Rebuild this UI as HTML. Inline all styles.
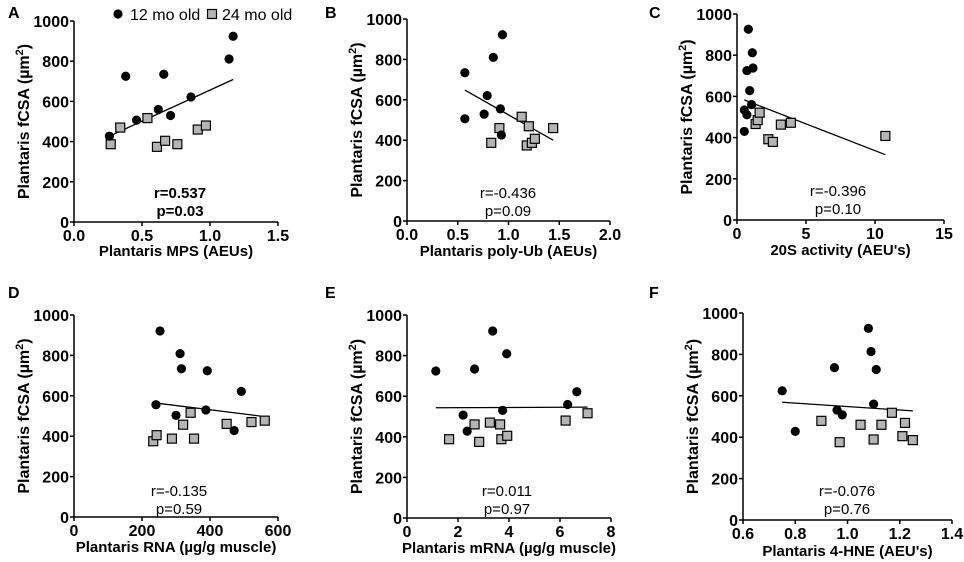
<!DOCTYPE html>
<html><head><meta charset="utf-8"><style>
body{margin:0;background:#fff}
svg{display:block;font-family:"Liberation Sans",Arial,sans-serif}
</style></head><body>
<svg id="fig" width="964" height="562" viewBox="0 0 964 562" xmlns="http://www.w3.org/2000/svg"></svg>
<script>
// Panel A
const aYoungX=[0.26,0.38,0.46,0.62,0.66,0.71,0.86,1.14,1.17];
const aYoungY=[427,725,507,560,735,530,622,811,924];
const aOldX=[0.27,0.34,0.54,0.61,0.67,0.76,0.91,0.97];
const aOldY=[387,470,517,374,404,387,460,480];
const aFitX=[0.26,1.17]; const aFitY=[427,709];
const aXTicks=["0.0","0.5","1.0","1.5"];
// Panel B
const bYoungX=[0.57,0.57,0.76,0.79,0.85,0.92,0.94,0.93];
const bYoungY=[734,506,529,621,810,555,922,426];
const bOldX=[0.83,0.91,1.13,1.20,1.18,1.23,1.26,1.44];
const bOldY=[387,460,516,469,374,387,407,460];
const bFitX=[0.57,1.44]; const bFitY=[648,400];
const bXTicks=["0.0","0.5","1.0","1.5","2.0"];
// Panel C
const cYoungX=[0.82,1.11,0.72,1.16,0.92,1.06,0.53,0.72,0.53];
const cYoungY=[926,812,725,738,628,560,534,511,430];
const cOldX=[1.35,1.5,1.64,2.27,2.6,3.18,3.9,10.75];
const cOldY=[466,485,521,392,379,463,472,408];
const cFitX=[0.53,10.75]; const cFitY=[583,317];
const cXTicks=["0","5","10","15"];
// Panel D
const dYoungX=[253,312,316,392,492,241,388,300,471];
const dYoungY=[921,809,734,724,622,556,530,503,428];
const dOldX=[233,243,288,321,343,353,449,522,561];
const dOldY=[375,405,388,457,516,388,461,470,477];
const dFitX=[233,561]; const dFitY=[566,497];
const dXTicks=["0","200","400","600"];
// Panel E
const eYoungX=[1.13,2.65,3.36,3.91,2.2,2.36,3.75,6.3,6.66];
const eYoungY=[724,734,921,809,507,428,530,559,622];
const eOldX=[1.65,2.65,2.83,3.25,3.65,3.7,3.93,6.22,7.08];
const eOldY=[388,461,375,470,461,388,405,480,516];
const eFitX=[1.13,7.08]; const eFitY=[543,546];
const eXTicks=["0","2","4","6","8"];
// Panel F
const fYoungX=[1.08,1.09,0.95,1.11,0.75,1.10,0.96,0.98,0.80];
const fYoungY=[926,814,736,727,624,560,531,508,428];
const fOldX=[0.90,0.97,1.05,1.10,1.13,1.17,1.22,1.21,1.25];
const fOldY=[479,376,460,389,460,518,469,405,386];
const fFitX=[0.75,1.25]; const fFitY=[569,527];
const fXTicks=["0.6","0.8","1.0","1.2","1.4"];
const yTicks=["0","200","400","600","800","1000"];

const panels=[
 {id:"a",L:"A",lx:8,ly:18,x0:74,x1:278,y0:222,y1:21,xmin:0,xmax:1.5,yx_:aXTicks,yX:aYoungX,yY:aYoungY,oX:aOldX,oY:aOldY,fX:aFitX,fY:aFitY,xt:"Plantaris MPS (AEUs)",xty:256,r:"r=0.537",p:"p=0.03",sx:180,sy:198,bold:true},
 {id:"b",L:"B",lx:325,ly:18,x0:407,x1:610,y0:221,y1:19,xmin:0,xmax:2,yx_:bXTicks,yX:bYoungX,yY:bYoungY,oX:bOldX,oY:bOldY,fX:bFitX,fY:bFitY,xt:"Plantaris poly-Ub (AEUs)",xty:256,r:"r=-0.436",p:"p=0.09",sx:508,sy:198},
 {id:"c",L:"C",lx:649,ly:18,x0:737,x1:944,y0:220,y1:14,xmin:0,xmax:15,yx_:cXTicks,yX:cYoungX,yY:cYoungY,oX:cOldX,oY:cOldY,fX:cFitX,fY:cFitY,xt:"20S activity (AEU's)",xty:255,r:"r=-0.396",p:"p=0.10",sx:838,sy:196},
 {id:"d",L:"D",lx:8,ly:298,x0:74,x1:278,y0:517,y1:315,xmin:0,xmax:600,yx_:dXTicks,yX:dYoungX,yY:dYoungY,oX:dOldX,oY:dOldY,fX:dFitX,fY:dFitY,xt:"Plantaris RNA (µg/g muscle)",xty:552,r:"r=-0.135",p:"p=0.59",sx:179,sy:496},
 {id:"e",L:"E",lx:325,ly:298,x0:407,x1:611,y0:518,y1:315,xmin:0,xmax:8,yx_:eXTicks,yX:eYoungX,yY:eYoungY,oX:eOldX,oY:eOldY,fX:eFitX,fY:eFitY,xt:"Plantaris mRNA (µg/g muscle)",xty:553,r:"r=0.011",p:"p=0.97",sx:507,sy:496},
 {id:"f",L:"F",lx:649,ly:298,x0:743,x1:952,y0:520,y1:313,xmin:0.6,xmax:1.4,yx_:fXTicks,yX:fYoungX,yY:fYoungY,oX:fOldX,oY:fOldY,fX:fFitX,fY:fFitY,xt:"Plantaris 4-HNE (AEU's)",xty:556,r:"r=-0.076",p:"p=0.76",sx:847,sy:496}
];
const NS="http://www.w3.org/2000/svg";
const svg=document.getElementById("fig");
function mk(tag,attrs,parent,text){const e=document.createElementNS(NS,tag);for(const k in attrs)e.setAttribute(k,attrs[k]);if(text!==undefined)e.textContent=text;(parent||svg).appendChild(e);return e;}

panels.forEach(P=>{
 const g=mk("g",{});
 
 
 const sx=v=>P.x0+(v-P.xmin)/(P.xmax-P.xmin)*(P.x1-P.x0);
 const sy=v=>P.y0+(v/1000)*(P.y1-P.y0);
 const lbl=mk("text",{x:P.lx,y:P.ly,"font-size":16,"font-weight":"bold"},g,P.L);
 
 
 const ax=mk("path",{d:`M${P.x0},${P.y1}V${P.y0}H${P.x1}`,stroke:"#000","stroke-width":1.5,fill:"none"},g);
 
 
 yTicks.forEach(t=>{
  const y=sy(+t);
  mk("line",{x1:P.x0-4,x2:P.x0,y1:y,y2:y,stroke:"#000","stroke-width":1.5},g);
  const tl=mk("text",{x:P.x0-5,y:y+6,"font-size":16,"font-weight":"bold","text-anchor":"end"},g,t);
  
  
 });
 P.yx_.forEach(t=>{
  const x=sx(+t);
  mk("line",{x1:x,x2:x,y1:P.y0,y2:P.y0+4,stroke:"#000","stroke-width":1.5},g);
  const tl=mk("text",{x:x,y:P.y0+19,"font-size":16,"font-weight":"bold","text-anchor":"middle"},g,t);
  
  
 });
 const xt=mk("text",{x:(P.x0+P.x1)/2,y:P.xty,"font-size":15,"font-weight":"bold","text-anchor":"middle"},g,P.xt);
 
 
 const ycx=P.x0-45, ycy=(P.y0+P.y1)/2;
 const yt=mk("text",{x:ycx,y:ycy,"font-size":16,"font-weight":"bold","text-anchor":"middle",transform:`rotate(-90 ${ycx} ${ycy})`},g);
 
 
 mk("tspan",{},yt,"Plantaris fCSA  (µm");
 mk("tspan",{"font-size":11,dy:-6},yt,"2");
 mk("tspan",{dy:6},yt,")");
 const fl=mk("line",{x1:sx(P.fX[0]),y1:sy(P.fY[0]),x2:sx(P.fX[1]),y2:sy(P.fY[1]),stroke:"#000","stroke-width":1.3},g);
 
 
 P.oX.forEach((v,i)=>{
  const r=mk("rect",{x:sx(v)-4.5,y:sy(P.oY[i])-4.5,width:9,height:9,fill:"#b4b4b4",stroke:"#000","stroke-width":1.2},g);
  
  
 });
 P.yX.forEach((v,i)=>{
  const c=mk("circle",{cx:sx(v),cy:sy(P.yY[i]),r:4.6,fill:"#000"},g);
  
  
 });
 const fw=P.bold?"bold":"normal";
 const rt=mk("text",{x:P.sx,y:P.sy,"font-size":15,"font-weight":fw,"text-anchor":"middle"},g,P.r);
 
 
 const pt=mk("text",{x:P.sx,y:P.sy+18,"font-size":15,"font-weight":fw,"text-anchor":"middle"},g,P.p);
 
 
});
const lg=mk("g",{});


const l1=mk("circle",{cx:118,cy:14,r:4.6,fill:"#000"},lg);


const t1=mk("text",{x:130,y:20,"font-size":16},lg,"12 mo old");


const l2=mk("rect",{x:207.5,y:9.5,width:9,height:9,fill:"#b4b4b4",stroke:"#000","stroke-width":1.2},lg);


const t2=mk("text",{x:222,y:20,"font-size":16},lg,"24 mo old");


</script>
</body></html>
